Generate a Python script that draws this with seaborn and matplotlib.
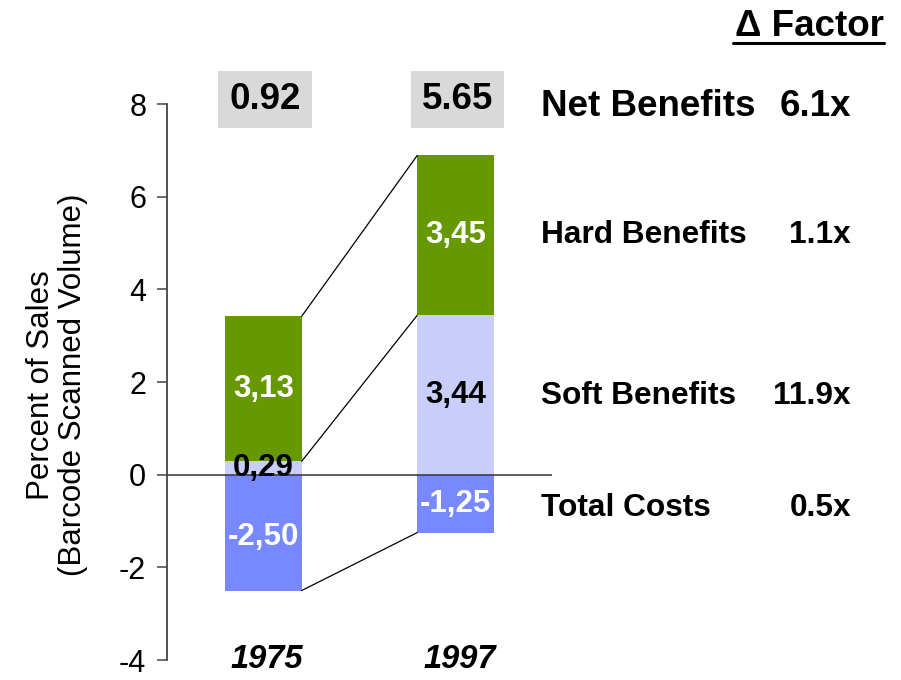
import matplotlib
matplotlib.use("Agg")
import matplotlib.pyplot as plt
import matplotlib.lines as mlines
import seaborn as sns
import pandas as pd

# values
years = ["1975", "1997"]
soft_benefits = [0.29, 3.44]
hard_benefits = [3.13, 3.45]
total_costs = [-2.50, -1.25]
net_benefits = [0.92, 5.65]
row_labels = ["Net Benefits", "Hard Benefits", "Soft Benefits", "Total Costs"]
factors = ["6.1x", "1.1x", "11.9x", "0.5x"]

green = "#669900"
light = "#C8CDFA"
blue = "#7889FF"

sns.set_style("ticks")
plt.rcParams["font.family"] = ["Liberation Sans", "DejaVu Sans"]
plt.rcParams["text.color"] = "black"
plt.rcParams["axes.labelcolor"] = "black"
plt.rcParams["ytick.labelcolor"] = "black"
plt.rcParams["axes.unicode_minus"] = False

df = pd.DataFrame({"year": years, "soft": soft_benefits, "hard": hard_benefits,
                   "costs": total_costs})
df["benefits"] = df["soft"] + df["hard"]

fig = plt.figure(figsize=(9.01, 6.8), dpi=100)
ax = fig.add_axes([167 / 901, 1 - 660 / 680, 385 / 901, 556 / 680])

# stacked bars by overplotting: total benefits, then soft on top, then costs
sns.barplot(data=df, x="year", y="benefits", color=green, saturation=1,
            width=0.4, errorbar=None, ax=ax, linewidth=0)
sns.barplot(data=df, x="year", y="soft", color=light, saturation=1,
            width=0.4, errorbar=None, ax=ax, linewidth=0)
sns.barplot(data=df, x="year", y="costs", color=blue, saturation=1,
            width=0.4, errorbar=None, ax=ax, linewidth=0)

ax.set_xlim(-0.5, 1.5)
ax.set_ylim(-4, 8)
ax.set_yticks([-4, -2, 0, 2, 4, 6, 8])
ax.set_xticks([])
ax.set_xlabel("")
ax.axhline(0, color="#333333", lw=1.1, zorder=3)

for s in ["top", "right", "bottom"]:
    ax.spines[s].set_visible(False)
ax.spines["left"].set_color("#444444")
ax.spines["left"].set_linewidth(1.3)
ax.tick_params(axis="y", length=7, width=1.1, color="#444444", labelsize=22,
               labelcolor="black", pad=8)

ax.set_ylabel("Percent of Sales\n(Barcode Scanned Volume)", fontsize=22.5,
              linespacing=1.1, va="center")
ax.yaxis.set_label_coords(-0.285, 0.495)

half = 0.2
# connector lines between the bars
ax.plot([half, 1 - half], [df["benefits"][0], df["benefits"][1]], color="black", lw=0.9)
ax.plot([half, 1 - half], [df["soft"][0], df["soft"][1]], color="black", lw=0.9)
ax.plot([half, 1 - half], [df["costs"][0], df["costs"][1]], color="black", lw=0.9)

def fmt(v):
    return f"{v:.2f}".replace(".", ",")

for i in range(len(years)):
    ax.text(i, df["soft"][i] + df["hard"][i] / 2, fmt(df["hard"][i]), color="white",
            fontsize=22.5, fontweight="bold", ha="center", va="center", zorder=5)
    ax.text(i, df["soft"][i] / 2, fmt(df["soft"][i]), color="black",
            fontsize=22.5, fontweight="bold", ha="center", va="center", zorder=5)
    ax.text(i, df["costs"][i] / 2 - (0.1 if i == 0 else 0), fmt(df["costs"][i]),
            color="white", fontsize=22.5, fontweight="bold", ha="center",
            va="center", zorder=5)
    ax.text(i + 0.01, 8.1, f"{net_benefits[i]:.2f}", fontsize=26.5, fontweight="bold",
            ha="center", va="center", clip_on=False,
            bbox=dict(boxstyle="square,pad=0.3", fc="#D9D9D9", ec="none"))
    ax.text(i + 0.02, -4, years[i], fontsize=23.5, fontweight="bold", style="italic",
            ha="center", va="center", clip_on=False)

# right-hand factor table
row_y = [107, 235, 396, 508]
row_size = [26.5, 22.8, 22.8, 22.8]
for lab, fac, y, fs in zip(row_labels, factors, row_y, row_size):
    fig.text(541 / 901, 1 - y / 680, lab, fontsize=fs, fontweight="bold",
             ha="left", va="center")
    fig.text(851 / 901, 1 - y / 680, fac, fontsize=fs, fontweight="bold",
             ha="right", va="center")

fig.text(884 / 901, 1 - 27 / 680, "\u0394 Factor", fontsize=26.5, fontweight="bold",
         ha="right", va="center")
fig.add_artist(mlines.Line2D([733 / 901, 884 / 901], [1 - 43 / 680, 1 - 43 / 680],
                             color="black", lw=2.2))

fig.savefig("out.png", dpi=100)
